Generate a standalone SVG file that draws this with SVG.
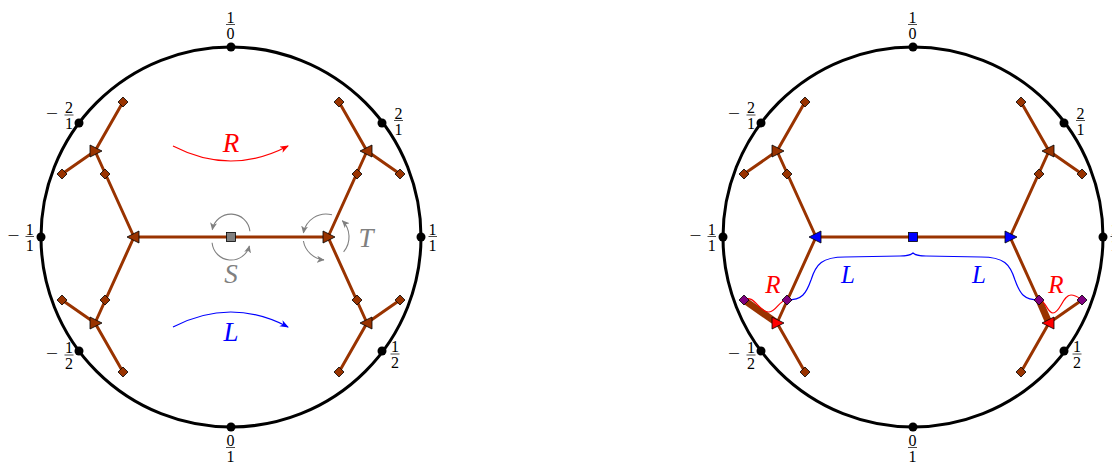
<svg xmlns="http://www.w3.org/2000/svg" width="1112" height="463" viewBox="0 0 1112 463">
<style>
.circ{fill:none;stroke:#000;stroke-width:3}
.pt{fill:#000}
.edge{stroke:#993300;stroke-width:3;fill:none;stroke-linecap:round}
.thick{stroke:#993300;stroke-width:7;fill:none}
.nd{stroke:#000;stroke-width:0.8;stroke-linejoin:miter}
.br{fill:#993300}
.gr{fill:#808080}
.bl{fill:#0000ff}
.rd{fill:#ff0000}
.pu{fill:#800080}
.frac{font-family:"Liberation Serif",serif;font-size:16px;fill:#000;text-anchor:middle}
.bar{stroke:#000;stroke-width:0.7}
.lbl{font-family:"Liberation Serif",serif;font-style:italic;text-anchor:middle}
.rot{fill:none;stroke:#808080;stroke-width:1.1}
.redc{fill:none;stroke:#ff0000;stroke-width:1.2}
.bluec{fill:none;stroke:#0000ff;stroke-width:1.2}
</style>
<defs>
<path id="dia" d="M0,-5 L5,0 L0,5 L-5,0 Z"/>
<path id="triR" d="M-5,-6 L7,0 L-5,6 Z"/>
<path id="triL" d="M5,-6 L-7,0 L5,6 Z"/>
<rect id="sq" x="-4.5" y="-4.5" width="9" height="9"/>
<marker id="arG" markerUnits="userSpaceOnUse" markerWidth="9" markerHeight="8" refX="7" refY="3.5" orient="auto"><path d="M0,0 L7.5,3.5 L0,7 L2,3.5 Z" fill="#808080"/></marker>
<marker id="arR" markerUnits="userSpaceOnUse" markerWidth="10" markerHeight="8" refX="8" refY="3.5" orient="auto"><path d="M0,0 L9,3.5 L0,7 L2.5,3.5 Z" fill="#ff0000"/></marker>
<marker id="arB" markerUnits="userSpaceOnUse" markerWidth="10" markerHeight="8" refX="8" refY="3.5" orient="auto"><path d="M0,0 L9,3.5 L0,7 L2.5,3.5 Z" fill="#0000ff"/></marker>
</defs>

<!-- circles -->
<circle id="circleL" class="circ" cx="231" cy="237" r="190"/>
<circle id="circleR" class="circ" cx="913" cy="237" r="190"/>

<!-- connectors -->
<g id="connectors">
<g id="edgesL">
<line class="edge" x1="134" y1="237" x2="328" y2="237"/>
<line class="edge" x1="134" y1="237" x2="95" y2="151"/>
<line class="edge" x1="95" y1="151" x2="123" y2="102"/>
<line class="edge" x1="95" y1="151" x2="62" y2="174"/>
<line class="edge" x1="134" y1="237" x2="95" y2="323"/>
<line class="edge" x1="95" y1="323" x2="123" y2="372"/>
<line class="edge" x1="95" y1="323" x2="62" y2="300"/>
<line class="edge" x1="328" y1="237" x2="367" y2="151"/>
<line class="edge" x1="367" y1="151" x2="339" y2="102"/>
<line class="edge" x1="367" y1="151" x2="400" y2="174"/>
<line class="edge" x1="328" y1="237" x2="367" y2="323"/>
<line class="edge" x1="367" y1="323" x2="339" y2="372"/>
<line class="edge" x1="367" y1="323" x2="400" y2="300"/>
</g>
<g id="edgesR">
<line class="edge" x1="816" y1="237" x2="1010" y2="237"/>
<line class="edge" x1="816" y1="237" x2="777" y2="151"/>
<line class="edge" x1="777" y1="151" x2="805" y2="102"/>
<line class="edge" x1="777" y1="151" x2="744" y2="174"/>
<line class="edge" x1="816" y1="237" x2="777" y2="323"/>
<line class="edge" x1="777" y1="323" x2="805" y2="372"/>
<line class="edge" x1="777" y1="323" x2="744" y2="300"/>
<line class="edge" x1="1010" y1="237" x2="1049" y2="151"/>
<line class="edge" x1="1049" y1="151" x2="1021" y2="102"/>
<line class="edge" x1="1049" y1="151" x2="1082" y2="174"/>
<line class="edge" x1="1010" y1="237" x2="1049" y2="323"/>
<line class="edge" x1="1049" y1="323" x2="1021" y2="372"/>
<line class="edge" x1="1049" y1="323" x2="1082" y2="300"/>
<line class="thick" x1="744" y1="300" x2="777" y2="323"/>
<line class="thick" x1="1039" y1="300" x2="1049" y2="323"/>
</g>
</g>

<!-- circle points with labels, left -->
<g id="pL-1-0"><circle class="pt" cx="231" cy="47" r="4.5"/><text class="frac" x="230.5" y="22.5">1</text><line class="bar" x1="226" y1="24.5" x2="235" y2="24.5"/><text class="frac" x="230.5" y="38.5">0</text></g>
<g id="pL-0-1"><circle class="pt" cx="231" cy="427" r="4.5"/><text class="frac" x="230.5" y="445.5">0</text><line class="bar" x1="226" y1="447.5" x2="235" y2="447.5"/><text class="frac" x="230.5" y="461.5">1</text></g>
<g id="pL-m1-1"><circle class="pt" cx="41" cy="237" r="4.5"/><text class="frac" x="13.5" y="241" textLength="12" lengthAdjust="spacingAndGlyphs">−</text><text class="frac" x="29.7" y="234.5">1</text><line class="bar" x1="25.5" y1="236.5" x2="34" y2="236.5"/><text class="frac" x="29.7" y="250.5">1</text></g>
<g id="pL-1-1"><circle class="pt" cx="421" cy="237" r="4.5"/><text class="frac" x="432.5" y="234.5">1</text><line class="bar" x1="428.5" y1="236.5" x2="437" y2="236.5"/><text class="frac" x="432.5" y="250.5">1</text></g>
<g id="pL-m2-1"><circle class="pt" cx="79" cy="123" r="4.5"/><text class="frac" x="52" y="119" textLength="12" lengthAdjust="spacingAndGlyphs">−</text><text class="frac" x="69" y="113">2</text><line class="bar" x1="64.5" y1="115" x2="73.5" y2="115"/><text class="frac" x="69" y="129">1</text></g>
<g id="pL-2-1"><circle class="pt" cx="382" cy="123" r="4.5"/><text class="frac" x="398.5" y="118.5">2</text><line class="bar" x1="394" y1="120.5" x2="403" y2="120.5"/><text class="frac" x="398.5" y="134.5">1</text></g>
<g id="pL-m1-2"><circle class="pt" cx="79" cy="351" r="4.5"/><text class="frac" x="52" y="359" textLength="12" lengthAdjust="spacingAndGlyphs">−</text><text class="frac" x="69" y="353">1</text><line class="bar" x1="64.5" y1="355" x2="73.5" y2="355"/><text class="frac" x="69" y="369">2</text></g>
<g id="pL-1-2"><circle class="pt" cx="382" cy="351" r="4.5"/><text class="frac" x="395" y="352">1</text><line class="bar" x1="390.5" y1="354" x2="399.5" y2="354"/><text class="frac" x="395" y="368">2</text></g>

<!-- circle points with labels, right -->
<g id="pR-1-0"><circle class="pt" cx="913" cy="47" r="4.5"/><text class="frac" x="912.5" y="22.5">1</text><line class="bar" x1="908" y1="24.5" x2="917" y2="24.5"/><text class="frac" x="912.5" y="38.5">0</text></g>
<g id="pR-0-1"><circle class="pt" cx="913" cy="427" r="4.5"/><text class="frac" x="912.5" y="445.5">0</text><line class="bar" x1="908" y1="447.5" x2="917" y2="447.5"/><text class="frac" x="912.5" y="461.5">1</text></g>
<g id="pR-m1-1"><circle class="pt" cx="723" cy="237" r="4.5"/><text class="frac" x="695.5" y="241" textLength="12" lengthAdjust="spacingAndGlyphs">−</text><text class="frac" x="711.7" y="234.5">1</text><line class="bar" x1="707.5" y1="236.5" x2="716" y2="236.5"/><text class="frac" x="711.7" y="250.5">1</text></g>
<g id="pR-1-1"><circle class="pt" cx="1103" cy="237" r="4.5"/><text class="frac" x="1114.5" y="234.5">1</text><line class="bar" x1="1110.5" y1="236.5" x2="1119" y2="236.5"/><text class="frac" x="1114.5" y="250.5">1</text></g>
<g id="pR-m2-1"><circle class="pt" cx="761" cy="123" r="4.5"/><text class="frac" x="734" y="119" textLength="12" lengthAdjust="spacingAndGlyphs">−</text><text class="frac" x="751" y="113">2</text><line class="bar" x1="746.5" y1="115" x2="755.5" y2="115"/><text class="frac" x="751" y="129">1</text></g>
<g id="pR-2-1"><circle class="pt" cx="1064" cy="123" r="4.5"/><text class="frac" x="1080.5" y="118.5">2</text><line class="bar" x1="1076" y1="120.5" x2="1085" y2="120.5"/><text class="frac" x="1080.5" y="134.5">1</text></g>
<g id="pR-m1-2"><circle class="pt" cx="761" cy="351" r="4.5"/><text class="frac" x="734" y="359" textLength="12" lengthAdjust="spacingAndGlyphs">−</text><text class="frac" x="751" y="353">1</text><line class="bar" x1="746.5" y1="355" x2="755.5" y2="355"/><text class="frac" x="751" y="369">2</text></g>
<g id="pR-1-2"><circle class="pt" cx="1064" cy="351" r="4.5"/><text class="frac" x="1077" y="352">1</text><line class="bar" x1="1072.5" y1="354" x2="1081.5" y2="354"/><text class="frac" x="1077" y="368">2</text></g>

<!-- left tree nodes -->
<g id="nL-sq"><use href="#sq" class="nd gr" x="231" y="237"/></g>
<g id="nL-t1"><use href="#triL" class="nd br" x="134" y="237"/></g>
<g id="nL-t2"><use href="#triR" class="nd br" x="328" y="237"/></g>
<g id="nL-t3"><use href="#triR" class="nd br" x="95" y="151"/></g>
<g id="nL-t4"><use href="#triL" class="nd br" x="367" y="151"/></g>
<g id="nL-t5"><use href="#triR" class="nd br" x="95" y="323"/></g>
<g id="nL-t6"><use href="#triL" class="nd br" x="367" y="323"/></g>
<g id="nL-d1"><use href="#dia" class="nd br" x="105" y="174"/></g>
<g id="nL-d2"><use href="#dia" class="nd br" x="123" y="102"/></g>
<g id="nL-d3"><use href="#dia" class="nd br" x="62" y="174"/></g>
<g id="nL-d4"><use href="#dia" class="nd br" x="105" y="300"/></g>
<g id="nL-d5"><use href="#dia" class="nd br" x="123" y="372"/></g>
<g id="nL-d6"><use href="#dia" class="nd br" x="62" y="300"/></g>
<g id="nL-d7"><use href="#dia" class="nd br" x="357" y="174"/></g>
<g id="nL-d8"><use href="#dia" class="nd br" x="339" y="102"/></g>
<g id="nL-d9"><use href="#dia" class="nd br" x="400" y="174"/></g>
<g id="nL-d10"><use href="#dia" class="nd br" x="357" y="300"/></g>
<g id="nL-d11"><use href="#dia" class="nd br" x="339" y="372"/></g>
<g id="nL-d12"><use href="#dia" class="nd br" x="400" y="300"/></g>

<!-- right tree nodes -->
<g id="nR-sq"><use href="#sq" class="nd bl" x="913" y="237"/></g>
<g id="nR-t1"><use href="#triL" class="nd bl" x="816" y="237"/></g>
<g id="nR-t2"><use href="#triR" class="nd bl" x="1010" y="237"/></g>
<g id="nR-t3"><use href="#triR" class="nd br" x="777" y="151"/></g>
<g id="nR-t4"><use href="#triL" class="nd br" x="1049" y="151"/></g>
<g id="nR-t5"><use href="#triR" class="nd rd" x="777" y="323"/></g>
<g id="nR-t6"><use href="#triL" class="nd rd" x="1049" y="323"/></g>
<g id="nR-d1"><use href="#dia" class="nd br" x="787" y="174"/></g>
<g id="nR-d2"><use href="#dia" class="nd br" x="805" y="102"/></g>
<g id="nR-d3"><use href="#dia" class="nd br" x="744" y="174"/></g>
<g id="nR-d5"><use href="#dia" class="nd br" x="805" y="372"/></g>
<g id="nR-d7"><use href="#dia" class="nd br" x="1039" y="174"/></g>
<g id="nR-d8"><use href="#dia" class="nd br" x="1021" y="102"/></g>
<g id="nR-d9"><use href="#dia" class="nd br" x="1082" y="174"/></g>
<g id="nR-d11"><use href="#dia" class="nd br" x="1021" y="372"/></g>

<!-- right paths R and L -->
<g id="pathsR">
<path class="redc" d="M744,300 C753,293 760,313 769,312 C777,311 779,300 787,300"/>
<path class="redc" d="M1039,300 C1046,300 1047,313 1053,313 C1060,313 1063,295 1071,295 C1076,295 1079,298 1082,300"/>
<path class="bluec" d="M787,300 C802,300 806,294 811,280 C816,264 822,257 845,257 L900,256 C907,256 911,255 913,253 C915,255 919,256 926,256 L981,257 C1004,257 1010,264 1015,280 C1020,294 1024,300 1039,300"/>
</g>
<g id="nR-d4"><use href="#dia" class="nd pu" x="787" y="300"/></g>
<g id="nR-d6"><use href="#dia" class="nd pu" x="744" y="300"/></g>
<g id="nR-d10"><use href="#dia" class="nd pu" x="1039" y="300"/></g>
<g id="nR-d12"><use href="#dia" class="nd pu" x="1082" y="300"/></g>

<!-- left action arrows -->
<g id="actionsL">
<path class="redc" d="M173,146 Q231,176 288,146" marker-end="url(#arR)"/>
<path class="bluec" d="M173,327 Q231,297 288,327" marker-end="url(#arB)"/>
<path class="rot" d="M249.9,231.3 A19,19 0 0 0 212.3,229.7" marker-end="url(#arG)"/>
<path class="rot" d="M212.1,242.7 A19,19 0 0 0 249.4,245.9" marker-end="url(#arG)"/>
<path class="rot" d="M332,214.8 A23,23 0 0 0 303.4,233" marker-end="url(#arG)"/>
<path class="rot" d="M303.4,241 A23,23 0 0 0 324,259.9" marker-end="url(#arG)"/>
<path class="rot" d="M343.6,251.8 A23,23 0 0 0 342.3,220.7" marker-end="url(#arG)"/>
</g>

<!-- labels -->
<g id="labels">
<text class="lbl" x="231" y="152" font-size="27" fill="#ff0000">R</text>
<text class="lbl" x="231" y="341" font-size="27" fill="#0000ff">L</text>
<text class="lbl" x="231" y="283" font-size="27" fill="#808080">S</text>
<text class="lbl" x="366" y="247" font-size="27" fill="#808080">T</text>
<text class="lbl" x="773" y="293" font-size="25" fill="#ff0000">R</text>
<text class="lbl" x="1056" y="293" font-size="25" fill="#ff0000">R</text>
<text class="lbl" x="848" y="283" font-size="25" fill="#0000ff">L</text>
<text class="lbl" x="979" y="283" font-size="25" fill="#0000ff">L</text>
</g>
</svg>
